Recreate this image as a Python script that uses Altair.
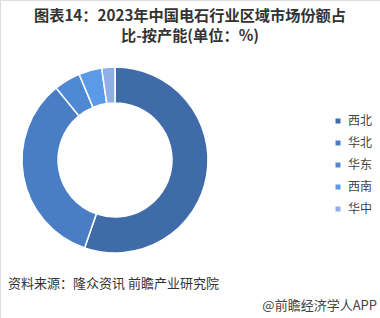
import altair as alt
import pandas as pd

regions = ["西北", "华北", "华东", "西南", "华中"]
shares = [55.3, 33.8, 4.6, 4.0, 2.3]
colors = ["#3F6BA8", "#4A7EC4", "#4F89D4", "#5A9AE6", "#8FAEE6"]

title_lines = ["图表14：2023年中国电石行业区域市场份额占", "比-按产能(单位：%)"]
source_text = "资料来源：隆众资讯 前瞻产业研究院"
brand_text = "@前瞻经济学人APP"

FONT = "Noto Sans CJK SC"

df = pd.DataFrame({"region": regions, "share": shares, "order": list(range(len(regions)))})

donut = alt.Chart(df).mark_arc(
    x=115, y=160, outerRadius=93, innerRadius=57, stroke="white", strokeWidth=1.5
).encode(
    theta=alt.Theta("share:Q", stack=True),
    order=alt.Order("order:Q"),
    color=alt.Color(
        "region:N",
        scale=alt.Scale(domain=regions, range=colors),
        legend=alt.Legend(
            title=None, orient="none", legendX=332, legendY=115,
            symbolType="square", symbolSize=25, symbolStrokeWidth=0,
            labelFont=FONT, labelFontSize=12, labelColor="#444444",
            rowPadding=10, labelOffset=4,
        ),
    ),
)

tdf = pd.DataFrame({"t": title_lines, "yy": [16, 36]})
titles = alt.Chart(tdf).mark_text(
    font=FONT, fontSize=15.2, fontWeight="bold", color="#333333", align="center", baseline="middle"
).encode(x=alt.value(190), y=alt.Y("yy:Q", scale=None), text="t:N")

src = alt.Chart(pd.DataFrame({"t": [source_text]})).mark_text(
    font=FONT, fontSize=13, color="#333333", align="left", baseline="middle"
).encode(x=alt.value(8), y=alt.value(284), text="t:N")

brand = alt.Chart(pd.DataFrame({"t": [brand_text]})).mark_text(
    font=FONT, fontSize=13, color="#444444", align="right", baseline="middle"
).encode(x=alt.value(377), y=alt.value(306), text="t:N")

chart = alt.layer(donut, titles, src, brand).properties(
    width=380, height=318, padding=0, autosize=alt.AutoSizeParams(type="none")
).configure_view(stroke=None).configure(background="white")

chart.save("out.html", embed_options={"renderer": "svg", "actions": False})
